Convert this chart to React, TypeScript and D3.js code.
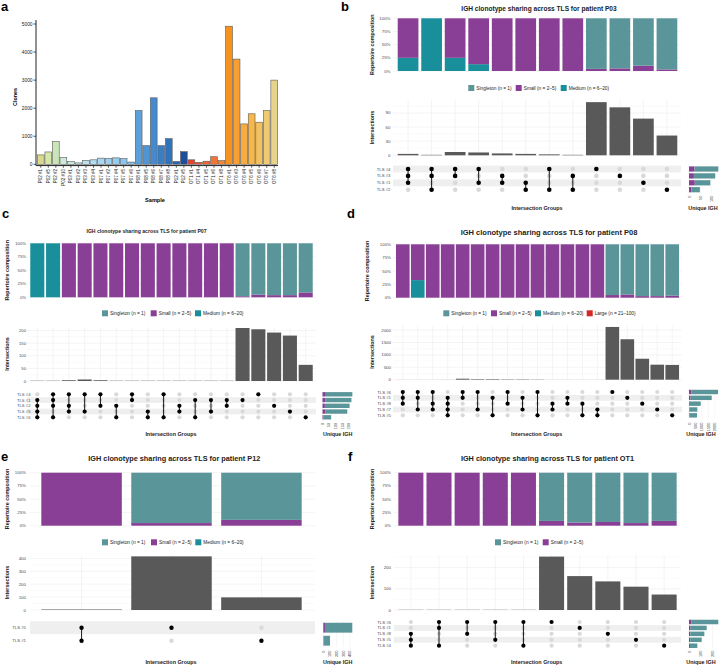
import React from "react";
import * as d3 from "d3";

const FONT = "'Liberation Sans', Arial, Helvetica, sans-serif";

// ---------------- Panel a data ----------------
const sampleLabels = ["P02 #1","P02 #5","P02 #2","P02 #10","P03 #1","P03 #2","P03 #3","P03 #4","P07 #1","P07 #2","P07 #4","P07 #5","P07 #6","P08 #1","P08 #5","P08 #6","P08 #7","P08 #8","P12 #1","P12 #5","OT1 #1","OT1 #4","OT1 #5","OT1 #6","OT1 #8","OT6 #1","OT6 #3","OT6 #4","OT6 #5","OT6 #6","OT6 #7","OT6 #8"];
const sampleClones = [335,440,810,240,100,50,140,160,220,210,230,200,80,1915,665,2370,665,915,100,450,160,70,110,270,130,4920,3750,1440,1800,1500,1915,3000];
const sampleColors = ["#d9d98c","#d5e7a9","#c9e5b9","#d1ead7","#cae8e2","#c3e4e8","#bde0ee","#b3dcf1","#a7d6f2","#9ed1f1","#95ccef","#8cc6ed","#84c1ea","#5ca0d9","#5095d3","#448acc","#3a7ec4","#3173bb","#2a62ad","#1d4e9b","#e6442b","#eb5530","#ee6533","#f17536","#f3853b","#f7921e","#f8a02f","#f9ac3d","#f8b74b","#f5c15c","#efca70","#e8d38b"];
const aTicks = [0,1000,2000,3000,4000,5000];

// ---------------- Categories ----------------
const catNames = ["Singleton (n = 1)","Small (n = 2\u20135)","Medium (n = 6\u201320)","Large (n = 21\u2013100)"];
const catKeys = ["Singleton","Small","Medium","Large"];

// ---------------- P03 ----------------
const p03Sets = ["TLS #4","TLS #3","TLS #1","TLS #2"];
const p03Combos = [["TLS #4","TLS #3","TLS #1"],["TLS #4","TLS #3","TLS #2"],["TLS #4","TLS #3"],["TLS #4","TLS #1"],["TLS #3","TLS #1"],["TLS #1","TLS #2"],["TLS #4","TLS #2"],["TLS #3","TLS #2"],["TLS #4"],["TLS #3"],["TLS #1"],["TLS #2"]];
const p03Intersections = [3,1,7,6,4,3,2,1,113,102,78,42];
const p03Singleton = [0,0,0,0,0,0,0,0,96,95,90,97];
const p03Small = [75,0,75,87,100,100,100,100,4,5,10,3];
const p03Medium = [25,100,25,13,0,0,0,0,0,0,0,0];
const p03SetSizes = [132,118,96,49];
const p03SetSmall = [25,22,26,10];

// ---------------- P07 ----------------
const p07Sets = ["TLS #4","TLS #1","TLS #2","TLS #5","TLS #6"];
const p07Combos = [["TLS #1","TLS #2","TLS #5","TLS #6"],["TLS #4","TLS #1","TLS #2","TLS #6"],["TLS #4","TLS #2","TLS #5"],["TLS #4","TLS #5"],["TLS #4","TLS #2"],["TLS #2","TLS #6"],["TLS #4","TLS #1"],["TLS #5","TLS #6"],["TLS #4","TLS #6"],["TLS #2","TLS #5"],["TLS #1","TLS #6"],["TLS #1","TLS #5"],["TLS #1","TLS #2"],["TLS #1"],["TLS #4"],["TLS #2"],["TLS #5"],["TLS #6"]];
const p07Intersections = [1,1,3,6,3,1,1,1,1,1,1,1,1,210,205,192,180,64];
const p07Singleton = [0,0,0,0,0,0,0,0,0,0,0,0,0,98,95,96,96,91];
const p07Small = [0,0,100,100,100,100,100,100,100,100,100,100,100,2,5,4,4,9];
const p07Medium = [100,100,0,0,0,0,0,0,0,0,0,0,0,0,0,0,0,0];
const p07SetSizes = [224,217,203,186,65];
const p07SetSmall = [25,20,18,20,8];

// ---------------- P08 ----------------
const p08Sets = ["TLS #6","TLS #1","TLS #8","TLS #7","TLS #5"];
const p08Combos = [["TLS #6","TLS #1","TLS #8"],["TLS #6","TLS #1","TLS #7"],["TLS #6","TLS #8","TLS #7"],["TLS #1","TLS #8","TLS #7","TLS #5"],["TLS #6","TLS #1"],["TLS #6","TLS #7"],["TLS #1","TLS #5"],["TLS #6","TLS #8"],["TLS #1","TLS #7"],["TLS #6","TLS #5"],["TLS #8","TLS #7"],["TLS #1","TLS #8"],["TLS #8","TLS #5"],["TLS #7","TLS #5"],["TLS #6"],["TLS #1"],["TLS #8"],["TLS #7"],["TLS #5"]];
const p08Intersections = [2,2,2,3,40,22,22,14,14,9,2,2,2,2,2125,1630,845,605,595];
const p08Singleton = [0,0,0,0,0,0,0,0,0,0,0,0,0,0,95,94,97,97,96];
const p08Small = [100,67,100,100,100,100,100,100,100,100,100,100,100,100,5,6,3,3,4];
const p08Medium = [0,33,0,0,0,0,0,0,0,0,0,0,0,0,0,0,0,0,0];
const p08Large = [0,0,0,0,0,0,0,0,0,0,0,0,0,0,0,0,0,0,0];
const p08SetSizes = [2250,1760,907,643,620];
const p08SetSmall = [190,120,60,40,40];

// ---------------- P12 ----------------
const p12Sets = ["TLS #5","TLS #1"];
const p12Combos = [["TLS #5","TLS #1"],["TLS #5"],["TLS #1"]];
const p12Intersections = [4,416,98];
const p12Singleton = [0,95,89];
const p12Small = [100,5,11];
const p12Medium = [0,0,0];
const p12SetSizes = [435,100];
const p12SetSmall = [25,3];

// ---------------- OT1 ----------------
const ot1Sets = ["TLS #6","TLS #1","TLS #8","TLS #5","TLS #4"];
const ot1Combos = [["TLS #8","TLS #5","TLS #4"],["TLS #6","TLS #1","TLS #4"],["TLS #6","TLS #8"],["TLS #6","TLS #5"],["TLS #6","TLS #4"],["TLS #6"],["TLS #1"],["TLS #8"],["TLS #5"],["TLS #4"]];
const ot1Intersections = [1,1,1,1,1,252,160,135,110,73];
const ot1Singleton = [0,0,0,0,0,91,94,93,95,91];
const ot1Small = [100,100,100,100,100,9,6,7,5,9];
const ot1SetSizes = [250,151,131,108,71];
const ot1SetSmall = [22,14,12,10,8];

const COLORS: Record<string,string> = { Singleton: "#5a9699", Small: "#8a3f96", Medium: "#1a8f9c", Large: "#d62728" };
const BAR_DARK = "#595959";
const DOT_GREY = "#d9d9d9";
const GRID = "#e9e9e9";
const GRID_MINOR = "#f4f4f4";
const TXT = "#333333";

function PanelA() {
  const x = d3.scaleBand<string>().domain(sampleLabels).range([37, 278]).paddingInner(0.1).paddingOuter(0.05);
  const y = d3.scaleLinear().domain([0, 5000]).range([164.3, 24]);
  const axisY = 165.6;
  return (
    <g>
      <text x={1} y={11} fontSize={13} fontWeight="bold" fontFamily={FONT}>a</text>
      {sampleLabels.map((s, i) => (
        <rect key={s} x={x(s)} y={y(sampleClones[i])} width={x.bandwidth()} height={y(0) - y(sampleClones[i])}
          fill={sampleColors[i]} stroke="#5c5c5c" strokeWidth={0.6} />
      ))}
      <line x1={36} x2={36} y1={20} y2={axisY} stroke="#222" strokeWidth={1} />
      <line x1={36} x2={278} y1={axisY} y2={axisY} stroke="#222" strokeWidth={1} />
      {aTicks.map(t => (
        <g key={t}>
          <line x1={33.5} x2={36} y1={y(t)} y2={y(t)} stroke="#222" strokeWidth={0.8} />
          <text x={32.5} y={y(t)} fontSize={4.8} textAnchor="end" dominantBaseline="central" fontFamily={FONT} fill="#222">{t}</text>
        </g>
      ))}
      {sampleLabels.map(s => {
        const cx = (x(s) as number) + x.bandwidth() / 2;
        return (
          <g key={s}>
            <line x1={cx} x2={cx} y1={axisY} y2={axisY + 2.2} stroke="#222" strokeWidth={0.7} />
            <text transform={`translate(${cx},${axisY + 3.5}) rotate(-90)`} fontSize={4.5} textAnchor="end" dominantBaseline="central" fontFamily={FONT} fill="#222">{s}</text>
          </g>
        );
      })}
      <text transform="translate(15,97) rotate(-90)" fontSize={5.4} fontWeight="bold" textAnchor="middle" dominantBaseline="central" fontFamily={FONT}>Clones</text>
      <text x={155} y={200} fontSize={5.6} fontWeight="bold" textAnchor="middle" dominantBaseline="central" fontFamily={FONT}>Sample</text>
    </g>
  );
}

type PanelData = {
  sets: string[]; combos: string[][]; inter: number[];
  singleton: number[]; small: number[]; medium?: number[]; large?: number[];
  setSizes: number[]; setSmall: number[]; legendN: number; title: string;
};

function UpsetPanel({ d, L }: { d: PanelData; L: any }) {
  const n = d.combos.length;
  const idx = d3.range(n);
  const x = d3.scaleBand<number>().domain(idx).range(L.cols).paddingInner(L.pad).paddingOuter(L.pad / 2);
  const bw = x.bandwidth();
  const cx = (i: number) => (x(i) as number) + bw / 2;
  const comp = d3.scaleLinear().domain([0, 100]).range([L.comp.bottom, L.comp.top]);
  const inter = d3.scaleLinear().domain([0, L.inter.max]).range([L.inter.zero, L.inter.top]);
  const setX = d3.scaleLinear().domain([0, L.sets.max]).range([L.sets.x0, L.sets.x0 + L.sets.width]);
  const rowY = (j: number) => L.matrix.y0 + j * L.matrix.dy;
  const nRows = d.sets.length;
  const fs = L.fs;

  const rows = idx.map(i => ({
    Large: d.large ? d.large[i] : 0,
    Medium: d.medium ? d.medium[i] : 0,
    Small: d.small[i],
    Singleton: d.singleton[i],
  }));
  const stack = d3.stack<any>().keys(["Large", "Medium", "Small", "Singleton"])(rows);

  const compTicks = [0, 25, 50, 75, 100];
  const interTicks: number[] = L.inter.ticks;
  const minor: number[] = [];
  for (let k = 0; k < interTicks.length; k++) {
    const step = interTicks[1] - interTicks[0];
    const m = interTicks[k] + step / 2;
    if (m < L.inter.max) minor.push(m);
  }

  return (
    <g fontFamily={FONT}>
      <text x={L.letter.x} y={L.letter.y} fontSize={13} fontWeight="bold">{L.letter.t}</text>
      <text x={L.title.x} y={L.title.y} fontSize={L.title.size} fontWeight="bold" textAnchor="middle" dominantBaseline="central" fill="#222">{d.title}</text>

      {/* composition */}
      {compTicks.map(t => (
        <g key={t}>
          <line x1={L.plotX[0]} x2={L.plotX[1]} y1={comp(t)} y2={comp(t)} stroke={GRID} strokeWidth={0.5} />
          <text x={L.comp.tickX} y={comp(t)} fontSize={fs.tick} textAnchor="end" dominantBaseline="central" fill="#4d4d4d">{t}%</text>
        </g>
      ))}
      {stack.map(layer => layer.map((s, i) => (
        s[1] - s[0] > 0 ? (
          <rect key={layer.key + i} x={x(i)} y={comp(s[1])} width={bw} height={comp(s[0]) - comp(s[1])} fill={COLORS[layer.key as string]} />
        ) : null
      )))}
      <text transform={`translate(${L.comp.titleX},${L.comp.titleY}) rotate(-90)`} fontSize={fs.axis} fontWeight="bold" textAnchor="middle" dominantBaseline="central" fill="#222">Repertoire composition</text>

      {/* legend */}
      {catKeys.slice(0, d.legendN).map((k, i) => (
        <g key={k}>
          <rect x={L.legend.xs[i]} y={L.legend.y - 3} width={6} height={6} fill={COLORS[k]} />
          <text x={L.legend.xs[i] + 8} y={L.legend.y} fontSize={fs.legend} dominantBaseline="central" fill="#222">{catNames[i]}</text>
        </g>
      ))}

      {/* intersections */}
      {minor.map(t => (
        <line key={"m" + t} x1={L.plotX[0]} x2={L.plotX[1]} y1={inter(t)} y2={inter(t)} stroke={GRID_MINOR} strokeWidth={0.5} />
      ))}
      {idx.map(i => (
        <line key={"v" + i} x1={cx(i)} x2={cx(i)} y1={L.inter.top} y2={L.inter.zero} stroke={GRID} strokeWidth={0.5} />
      ))}
      {interTicks.map(t => (
        <g key={t}>
          <line x1={L.plotX[0]} x2={L.plotX[1]} y1={inter(t)} y2={inter(t)} stroke={GRID} strokeWidth={0.5} />
          <text x={L.inter.tickX} y={inter(t)} fontSize={fs.tick} textAnchor="end" dominantBaseline="central" fill="#4d4d4d">{t}</text>
        </g>
      ))}
      {idx.map(i => (
        <rect key={"b" + i} x={x(i)} y={inter(d.inter[i])} width={bw} height={L.inter.zero - inter(d.inter[i])} fill={BAR_DARK} />
      ))}
      <text transform={`translate(${L.inter.titleX},${L.inter.titleY}) rotate(-90)`} fontSize={fs.axis} fontWeight="bold" textAnchor="middle" dominantBaseline="central" fill="#222">Intersections</text>

      {/* matrix */}
      {d.sets.map((s, j) => ((nRows - 1 - j) % 2 === 1 ? (
        <rect key={"band" + s} x={L.plotX[0]} y={rowY(j) - L.matrix.dy / 2} width={L.plotX[1] - L.plotX[0]} height={L.matrix.dy} fill="#efefef" />
      ) : null))}
      {d.sets.map((s, j) => (
        <text key={"rl" + s} x={L.matrix.labelX} y={rowY(j)} fontSize={fs.row} textAnchor="end" dominantBaseline="central" fill="#4d4d4d">{s}</text>
      ))}
      {idx.map(i => d.sets.map((s, j) => (
        d.combos[i].includes(s) ? null : <circle key={"g" + i + s} cx={cx(i)} cy={rowY(j)} r={L.matrix.r} fill={DOT_GREY} />
      )))}
      {idx.map(i => {
        const js = d.sets.map((s, j) => (d.combos[i].includes(s) ? j : -1)).filter(j => j >= 0);
        if (js.length < 2) return null;
        return <line key={"ln" + i} x1={cx(i)} x2={cx(i)} y1={rowY(d3.min(js) as number)} y2={rowY(d3.max(js) as number)} stroke="#000" strokeWidth={0.9} />;
      })}
      {idx.map(i => d.sets.map((s, j) => (
        d.combos[i].includes(s) ? <circle key={"k" + i + s} cx={cx(i)} cy={rowY(j)} r={L.matrix.r} fill="#000" /> : null
      )))}
      <text x={L.xTitle.x} y={L.xTitle.y} fontSize={fs.axis} fontWeight="bold" textAnchor="middle" dominantBaseline="central" fill="#222">Intersection Groups</text>

      {/* set sizes */}
      {L.sets.ticks.map((t: number) => (
        <g key={"st" + t}>
          <line x1={setX(t)} x2={setX(t)} y1={rowY(0) - L.matrix.dy / 2} y2={rowY(nRows - 1) + L.matrix.dy / 2} stroke={GRID} strokeWidth={0.4} />
          <text transform={`translate(${setX(t)},${L.sets.tickTop}) rotate(-90)`} fontSize={fs.tick * 0.9} textAnchor="end" dominantBaseline="central" fill="#4d4d4d">{t}</text>
        </g>
      ))}
      {d.sets.map((s, j) => {
        const h = L.matrix.dy * 0.76;
        return (
          <g key={"sb" + s}>
            <rect x={setX(0)} y={rowY(j) - h / 2} width={setX(d.setSmall[j]) - setX(0)} height={h} fill={COLORS.Small} />
            <rect x={setX(d.setSmall[j])} y={rowY(j) - h / 2} width={setX(d.setSizes[j]) - setX(d.setSmall[j])} height={h} fill={COLORS.Singleton} />
          </g>
        );
      })}
      <text x={L.setTitle.x} y={L.setTitle.y} fontSize={fs.axis} fontWeight="bold" textAnchor="middle" dominantBaseline="central" fill="#222">Unique IGH</text>
    </g>
  );
}

const FS = { tick: 4.4, axis: 5.4, legend: 4.8, row: 4.3 };

const LB = {
  letter: { t: "b", x: 341, y: 11 },
  title: { x: 539, y: 8.5, size: 6.6 },
  cols: [396.3, 678.7], pad: 0.12, plotX: [393, 681],
  comp: { top: 18.3, bottom: 71, tickX: 390.5, titleX: 372, titleY: 44.7 },
  legend: { y: 88, xs: [468.3, 515.7, 560.7] },
  inter: { zero: 155.3, top: 99.8, max: 118, ticks: [0, 30, 60, 90], tickX: 390.5, titleX: 372, titleY: 127.5 },
  matrix: { y0: 169, dy: 6.9, labelX: 390.5, r: 2.3 },
  sets: { x0: 689, max: 135, width: 30, ticks: [0, 50, 100], tickTop: 195.5 },
  xTitle: { x: 537, y: 207.5 }, setTitle: { x: 703, y: 207.5 },
  fs: FS,
};
const LC = {
  letter: { t: "c", x: 2, y: 218 },
  title: { x: 146.5, y: 231.3, size: 5.1 },
  cols: [29.4, 313.6], pad: 0.11, plotX: [27, 316],
  comp: { top: 243.3, bottom: 297.3, tickX: 26, titleX: 7, titleY: 270.3 },
  legend: { y: 313.3, xs: [102, 150.7, 195] },
  inter: { zero: 381, top: 327, max: 214, ticks: [0, 50, 100, 150, 200], tickX: 26, titleX: 7, titleY: 354 },
  matrix: { y0: 394.3, dy: 5.75, labelX: 30.5, r: 2.1 },
  sets: { x0: 322.5, max: 225, width: 30, ticks: [0, 50, 100, 150, 200], tickTop: 423 },
  xTitle: { x: 171, y: 434 }, setTitle: { x: 337.7, y: 434 },
  fs: { ...FS, tick: 4.2, row: 4.2 },
};
const LD = {
  letter: { t: "d", x: 347, y: 218 },
  title: { x: 549, y: 232.3, size: 7.5 },
  cols: [395.3, 679.7], pad: 0.09, plotX: [393, 682],
  comp: { top: 244.3, bottom: 297.7, tickX: 391, titleX: 367, titleY: 271 },
  legend: { y: 313.3, xs: [443.3, 491, 535, 586.7] },
  inter: { zero: 379.7, top: 325.1, max: 2200, ticks: [0, 500, 1000, 1500, 2000], tickX: 391, titleX: 372.3, titleY: 352 },
  matrix: { y0: 392, dy: 5.83, labelX: 391, r: 2.1 },
  sets: { x0: 689, max: 2300, width: 29.7, ticks: [0, 500, 1000, 1500, 2000], tickTop: 422.5 },
  xTitle: { x: 536.7, y: 434 }, setTitle: { x: 701, y: 434 },
  fs: FS,
};
const LE = {
  letter: { t: "e", x: 1, y: 461 },
  title: { x: 174.3, y: 458.3, size: 7.3 },
  cols: [36.6, 306.4], pad: 0.105, plotX: [30, 315],
  comp: { top: 472.7, bottom: 525.7, tickX: 26, titleX: 7, titleY: 499 },
  legend: { y: 542.3, xs: [102, 151, 195.3] },
  inter: { zero: 610, top: 555.2, max: 425, ticks: [0, 100, 200, 300, 400], tickX: 26, titleX: 7, titleY: 582.5 },
  matrix: { y0: 627.7, dy: 13, labelX: 26, r: 2.2 },
  sets: { x0: 323.3, max: 450, width: 30, ticks: [0, 100, 200, 300, 400], tickTop: 650.5 },
  xTitle: { x: 171, y: 662.3 }, setTitle: { x: 337.7, y: 662.3 },
  fs: FS,
};
const LF = {
  letter: { t: "f", x: 348, y: 461 },
  title: { x: 547.5, y: 458.3, size: 7.3 },
  cols: [396.8, 678.2], pad: 0.11, plotX: [394, 681],
  comp: { top: 472.7, bottom: 525.7, tickX: 391, titleX: 372.3, titleY: 499 },
  legend: { y: 542.3, xs: [495, 542.7] },
  inter: { zero: 610, top: 554.9, max: 260, ticks: [0, 100, 200], tickX: 391, titleX: 372.3, titleY: 582.5 },
  matrix: { y0: 622, dy: 5.93, labelX: 391, r: 2.1 },
  sets: { x0: 689, max: 256, width: 30, ticks: [0, 100, 200], tickTop: 650.5 },
  xTitle: { x: 536.7, y: 662.3 }, setTitle: { x: 701, y: 662.3 },
  fs: FS,
};

const dataB: PanelData = { sets: p03Sets, combos: p03Combos, inter: p03Intersections, singleton: p03Singleton, small: p03Small, medium: p03Medium, setSizes: p03SetSizes, setSmall: p03SetSmall, legendN: 3, title: "IGH clonotype sharing across TLS for patient P03" };
const dataC: PanelData = { sets: p07Sets, combos: p07Combos, inter: p07Intersections, singleton: p07Singleton, small: p07Small, medium: p07Medium, setSizes: p07SetSizes, setSmall: p07SetSmall, legendN: 3, title: "IGH clonotype sharing across TLS for patient P07" };
const dataD: PanelData = { sets: p08Sets, combos: p08Combos, inter: p08Intersections, singleton: p08Singleton, small: p08Small, medium: p08Medium, large: p08Large, setSizes: p08SetSizes, setSmall: p08SetSmall, legendN: 4, title: "IGH clonotype sharing across TLS for patient P08" };
const dataE: PanelData = { sets: p12Sets, combos: p12Combos, inter: p12Intersections, singleton: p12Singleton, small: p12Small, medium: p12Medium, setSizes: p12SetSizes, setSmall: p12SetSmall, legendN: 3, title: "IGH clonotype sharing across TLS for patient P12" };
const dataF: PanelData = { sets: ot1Sets, combos: ot1Combos, inter: ot1Intersections, singleton: ot1Singleton, small: ot1Small, setSizes: ot1SetSizes, setSmall: ot1SetSmall, legendN: 2, title: "IGH clonotype sharing across TLS for patient OT1" };

export default function App() {
  return (
    <svg width={720} height={666} style={{ position: "absolute", left: 0, top: 0, background: "#fff" }}>
      <rect width={720} height={666} fill="#fff" />
      <PanelA />
      <UpsetPanel d={dataB} L={LB} />
      <UpsetPanel d={dataC} L={LC} />
      <UpsetPanel d={dataD} L={LD} />
      <UpsetPanel d={dataE} L={LE} />
      <UpsetPanel d={dataF} L={LF} />
    </svg>
  );
}
